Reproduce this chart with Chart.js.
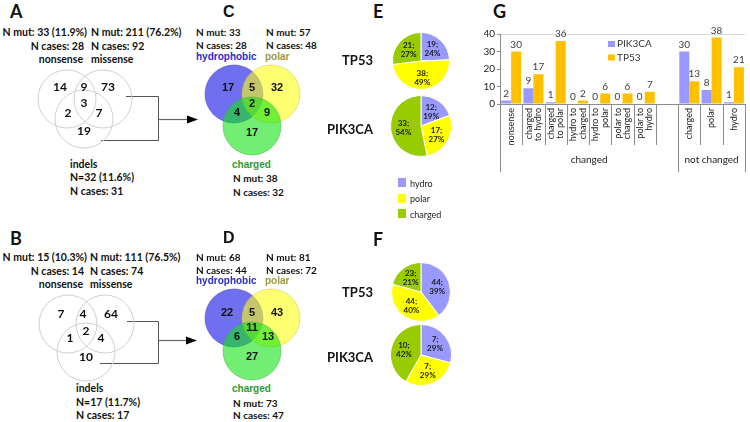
<!DOCTYPE html>
<html>
<head>
<meta charset="utf-8">
<script src="https://cdn.jsdelivr.net/npm/chart.js@4.4.1/dist/chart.umd.min.js"></script>
<style>
    body { margin: 0; width: 750px; height: 422px; position: relative; overflow: hidden; background: #fff; }
    .t { position: absolute; white-space: nowrap; line-height: 1; }
    canvas { position: absolute; }
    .sw { position: absolute; width: 8px; height: 9px; }
</style>
</head>
<body>
<svg width="750" height="422" style="position:absolute;left:0;top:0">
    <polyline points="126,96.5 158.5,96.5 158.5,140.5 101,140.5" fill="none" stroke="#555" stroke-width="1"/>
    <line x1="158.5" y1="119.5" x2="190" y2="119.5" stroke="#666" stroke-width="1.2"/>
    <polygon points="187,115.5 198,119.5 187,123.5" fill="#000"/>
    <polyline points="127,321.5 158.5,321.5 158.5,363.5 100,363.5" fill="none" stroke="#555" stroke-width="1"/>
    <line x1="158.5" y1="340.5" x2="189" y2="340.5" stroke="#666" stroke-width="1.2"/>
    <polygon points="186,336.5 197,340.5 186,344.5" fill="#000"/>
</svg>
<script>
// ---- data ----
// venn region counts: [only 1, 1&2, only 2, 1&2&3, 1&3, 2&3, only 3]
const vennACounts = [14, 9, 73, 3, 2, 7, 19];
const vennBCounts = [7, 4, 64, 2, 1, 4, 10];
const vennCCounts = [17, 5, 32, 2, 4, 9, 17];
const vennDCounts = [22, 5, 43, 11, 6, 13, 27];

const pieLabels = ['hydro', 'polar', 'charged'];
const pieE_TP53 = [19, 38, 21];
const pieE_TP53_pct = [24, 49, 27];
const pieE_PIK3CA = [12, 17, 33];
const pieE_PIK3CA_pct = [19, 27, 54];
const pieF_TP53 = [44, 44, 23];
const pieF_TP53_pct = [39, 40, 21];
const pieF_PIK3CA = [7, 7, 10];
const pieF_PIK3CA_pct = [29, 29, 42];

const gCategories = [['nonsense'], ['charged', 'to hydro'], ['charged', 'to polar'], ['hydro to', 'charged'],
    ['hydro to', 'polar'], ['polar to', 'charged'], ['polar to', 'hydro'], [''], ['charged'], ['polar'], ['hydro']];
const gPIK3CA = [2, 9, 1, 0, 0, 0, 0, null, 30, 8, 1];
const gTP53 = [30, 17, 36, 2, 6, 6, 7, null, 13, 38, 21];
const gGroups = [{ label: 'changed', from: 0, to: 7 }, { label: 'not changed', from: 8, to: 10 }];
const gYMax = 40;
const gYStep = 5;

// ---- styles ----
const FONT_CAL = 'Lato, "Open Sans", sans-serif';
const FONT_ARIAL = '"Liberation Sans", Arial, sans-serif';
const pieColours = ['#9999ff', '#ffff00', '#99cc00'];

// venn geometry (local units, y up), not data
const vennPlainLayout = {
    fills: ['rgba(0,0,0,0)', 'rgba(0,0,0,0)', 'rgba(0,0,0,0)'],
    borders: ['#cfcfcf', '#cfcfcf', '#cfcfcf'],
    radius: 29,
    font: 'bold 12px ' + FONT_CAL
};
const vennColourLayout = {
    fills: ['rgba(15,15,230,0.6)', 'rgba(255,255,20,0.6)', 'rgba(20,228,20,0.6)'],
    borders: ['rgba(60,60,200,0.5)', 'rgba(200,200,60,0.5)', 'rgba(60,180,60,0.5)'],
    radius: 29,
    font: 'bold 11px ' + FONT_ARIAL
};
const VENN_PAD = 31; // room for bubble overflow so the plot area stays 120x100

function addText(txt, x, y, o = {}) {
    const d = document.createElement('div');
    d.className = 't';
    d.textContent = txt;
    d.style.left = x + 'px';
    d.style.top = y + 'px';
    d.style.fontSize = (o.size || 10.5) + 'px';
    d.style.fontFamily = o.font || FONT_CAL;
    d.style.fontWeight = o.weight || 'bold';
    d.style.color = o.color || '#111';
    const tx = o.align === 'right' ? '-100%' : o.align === 'center' ? '-50%' : '0';
    d.style.transform = `translate(${tx}, -50%)`;
    document.body.appendChild(d);
}

function addCanvas(x, y, w, h) {
    const c = document.createElement('canvas');
    c.width = w;
    c.height = h;
    c.style.left = x + 'px';
    c.style.top = y + 'px';
    c.style.width = w + 'px';
    c.style.height = h + 'px';
    document.body.appendChild(c);
    return c;
}

// Venn as a bubble chart, counts drawn at region spots
function drawVenn(cx, cy, counts, layout, centres, spots) {
    const canvas = addCanvas(cx - 60 - VENN_PAD, cy - 50 - VENN_PAD, 120 + 2 * VENN_PAD, 100 + 2 * VENN_PAD);
    new Chart(canvas, {
        type: 'bubble',
        data: {
            datasets: [{
                data: centres.map(c => ({ x: c[0], y: c[1], r: layout.radius })),
                backgroundColor: layout.fills,
                borderColor: layout.borders,
                borderWidth: 1,
                clip: false
            }]
        },
        options: {
            responsive: false,
            animation: false,
            events: [],
            layout: { padding: VENN_PAD },
            plugins: { legend: { display: false }, tooltip: { enabled: false } },
            scales: {
                x: { type: 'linear', display: false, min: -60, max: 60 },
                y: { type: 'linear', display: false, min: -50, max: 50 }
            }
        },
        plugins: [{
            id: 'vennCounts',
            afterDatasetsDraw(chart) {
                const { ctx, scales: { x, y } } = chart;
                ctx.save();
                ctx.font = layout.font;
                ctx.fillStyle = '#111';
                ctx.textAlign = 'center';
                ctx.textBaseline = 'middle';
                counts.forEach((n, i) => {
                    ctx.fillText(n, x.getPixelForValue(spots[i][0]), y.getPixelForValue(spots[i][1]));
                });
                ctx.restore();
            }
        }]
    });
}

function drawPie(cx, cy, size, values, pct) {
    const canvas = addCanvas(cx - size / 2, cy - size / 2, size, size);
    new Chart(canvas, {
        type: 'pie',
        data: {
            labels: pieLabels,
            datasets: [{ data: values, backgroundColor: pieColours, borderColor: '#fff', borderWidth: 1 }]
        },
        options: {
            responsive: false,
            animation: false,
            events: [],
            layout: { padding: 0 },
            plugins: { legend: { display: false }, tooltip: { enabled: false } }
        },
        plugins: [{
            id: 'pieLabels',
            afterDatasetsDraw(chart) {
                const ctx = chart.ctx;
                const arcs = chart.getDatasetMeta(0).data;
                ctx.save();
                ctx.font = 'bold 8px ' + FONT_CAL;
                ctx.fillStyle = '#1a1a1a';
                ctx.textAlign = 'center';
                ctx.textBaseline = 'middle';
                arcs.forEach((a, i) => {
                    const mid = (a.startAngle + a.endAngle) / 2;
                    const rr = a.outerRadius * 0.58;
                    const px = a.x + Math.cos(mid) * rr;
                    const py = a.y + Math.sin(mid) * rr;
                    ctx.fillText(values[i] + ';', px, py - 4.5);
                    ctx.fillText(pct[i] + '%', px, py + 4.5);
                });
                ctx.restore();
            }
        }]
    });
}

// ---- panel A / B ----
addText('A', 10, 11, { size: 18 });
addText('N mut: 33 (11.9%)', 87, 32, { align: 'right' });
addText('N mut: 211 (76.2%)', 91, 32);
addText('N cases: 28', 84, 46, { align: 'right' });
addText('N cases: 92', 91, 46);
addText('nonsense', 83, 59, { align: 'right' });
addText('missense', 91, 59);
addText('indels', 70, 164);
addText('N=32 (11.6%)', 70, 177);
addText('N cases: 31', 70, 191);
drawVenn(85, 109, vennACounts, vennPlainLayout,
    [[-18, 10], [18, 10], [-1, -10]],
    [[-25, 22], [-1, 22], [23, 22], [-1, 6], [-17, -4], [14, -4], [-1, -22]]);

addText('B', 10, 238, { size: 18 });
addText('N mut: 15 (10.3%)', 87, 257, { align: 'right' });
addText('N mut: 111 (76.5%)', 90, 257);
addText('N cases: 14', 84, 271, { align: 'right' });
addText('N cases: 74', 90, 271);
addText('nonsense', 83, 284, { align: 'right' });
addText('missense', 90, 284);
addText('indels', 76, 388);
addText('N=17 (11.7%)', 76, 402);
addText('N cases: 17', 76, 415);
drawVenn(86, 338, vennBCounts, vennPlainLayout,
    [[-18, 14], [19, 14], [0, -14]],
    [[-25, 24], [-3, 24], [25, 24], [0, 7], [-16, 0], [15, 0], [0, -19]]);

// ---- panel C / D ----
const BLUE_T = '#2b2bd0', OLIVE_T = '#9c9a3c', GREEN_T = '#2f9a2f';
addText('C', 223, 12, { size: 16, font: FONT_ARIAL });
addText('N mut: 33', 196, 32, { size: 10 });
addText('N mut: 57', 266, 32, { size: 10 });
addText('N cases: 28', 196, 45, { size: 10 });
addText('N cases: 48', 266, 45, { size: 10 });
addText('hydrophobic', 196, 57, { font: FONT_ARIAL, size: 10, color: BLUE_T });
addText('polar', 265, 57, { font: FONT_ARIAL, size: 10, color: OLIVE_T });
addText('charged', 232, 165, { font: FONT_ARIAL, size: 10, color: GREEN_T });
addText('N mut: 38', 233, 178, { size: 10 });
addText('N cases: 32', 233, 192, { size: 10 });
drawVenn(252, 110, vennCCounts, vennColourLayout,
    [[-18, 16], [19, 16], [0, -16]],
    [[-24, 22], [0, 22], [25, 22], [0, 6], [-15, -3], [15, -3], [0, -23]]);

addText('D', 223, 238, { size: 16, font: FONT_ARIAL });
addText('N mut: 68', 196, 257, { size: 10 });
addText('N mut: 81', 266, 257, { size: 10 });
addText('N cases: 44', 196, 270, { size: 10 });
addText('N cases: 72', 266, 270, { size: 10 });
addText('hydrophobic', 196, 281, { font: FONT_ARIAL, size: 10, color: BLUE_T });
addText('polar', 265, 281, { font: FONT_ARIAL, size: 10, color: OLIVE_T });
addText('charged', 232, 389, { font: FONT_ARIAL, size: 10, color: GREEN_T });
addText('N mut: 73', 233, 403, { size: 10 });
addText('N cases: 47', 233, 415, { size: 10 });
drawVenn(252, 334, vennDCounts, vennColourLayout,
    [[-18, 16], [19, 16], [0, -17]],
    [[-25, 21], [0, 21], [25, 21], [0, 6], [-15, -3], [16, -3], [0, -23]]);

// ---- panel E / F ----
addText('E', 373, 11, { size: 18 });
addText('TP53', 373, 60, { size: 13, align: 'right' });
addText('PIK3CA', 373, 129, { size: 13, align: 'right' });
drawPie(421, 61, 58, pieE_TP53, pieE_TP53_pct);
drawPie(421, 126, 62, pieE_PIK3CA, pieE_PIK3CA_pct);

pieLabels.forEach((lab, i) => {
    const sw = document.createElement('div');
    sw.className = 'sw';
    sw.style.left = '398px';
    sw.style.top = (178 + i * 15.5) + 'px';
    sw.style.background = pieColours[i];
    document.body.appendChild(sw);
    addText(lab, 410, 182.5 + i * 15.5, { size: 9, weight: 'normal', color: '#222' });
});

addText('F', 373, 239, { size: 18 });
addText('TP53', 373, 292, { size: 13, align: 'right' });
addText('PIK3CA', 373, 357, { size: 13, align: 'right' });
drawPie(421, 291.5, 60, pieF_TP53, pieF_TP53_pct);
drawPie(421, 355, 62, pieF_PIK3CA, pieF_PIK3CA_pct);

// ---- panel G ----
addText('G', 493, 11, { size: 18 });

const gAxisPlugin = {
    id: 'gAxis',
    afterDraw(chart) {
        const { ctx, chartArea, scales: { x } } = chart;
        const n = gCategories.length;
        const w = (x.right - x.left) / n;
        const edges = [];
        gGroups.forEach(g => { edges.push(g.from, g.to + 1); });
        ctx.save();
        ctx.strokeStyle = '#8c8c8c';
        ctx.lineWidth = 1;
        for (let i = 0; i <= n; i++) {
            const px = Math.round(x.left + i * w) + 0.5;
            const len = edges.includes(i) ? 68 : 41;
            ctx.beginPath();
            ctx.moveTo(px, chartArea.bottom);
            ctx.lineTo(px, chartArea.bottom + len);
            ctx.stroke();
        }
        // category labels, rotated, lines centred on the category
        ctx.font = '9px ' + FONT_CAL;
        ctx.fillStyle = '#222';
        ctx.textAlign = 'right';
        ctx.textBaseline = 'middle';
        const lh = 9.5;
        gCategories.forEach((lines, i) => {
            const cxp = x.getPixelForValue(i);
            lines.forEach((ln, j) => {
                ctx.save();
                ctx.translate(cxp + (j - (lines.length - 1) / 2) * lh, chartArea.bottom + 4);
                ctx.rotate(-Math.PI / 2);
                ctx.fillText(ln, 0, 0);
                ctx.restore();
            });
        });
        // group labels
        ctx.font = '10px ' + FONT_CAL;
        ctx.textAlign = 'center';
        gGroups.forEach(g => {
            const cxp = x.left + (g.from + g.to + 1) / 2 * w;
            ctx.fillText(g.label, cxp, chartArea.bottom + 56);
        });
        // value labels
        ctx.fillStyle = '#404040';
        ctx.textBaseline = 'bottom';
        chart.data.datasets.forEach((ds, di) => {
            chart.getDatasetMeta(di).data.forEach((bar, i) => {
                if (ds.data[i] === null) return;
                ctx.fillText(ds.data[i], bar.x, bar.y - 2);
            });
        });
        // legend
        ctx.textAlign = 'left';
        ctx.textBaseline = 'middle';
        chart.data.datasets.forEach((ds, di) => {
            const ly = chartArea.top + 10 + di * 13.5;
            ctx.fillStyle = ds.backgroundColor;
            ctx.fillRect(chartArea.left + 108, ly - 3, 7, 6);
            ctx.fillStyle = '#333';
            ctx.fillText(ds.label, chartArea.left + 117, ly);
        });
        ctx.restore();
    }
};

const canvasG = addCanvas(470, 20, 280, 160);
new Chart(canvasG, {
    type: 'bar',
    data: {
        labels: gCategories,
        datasets: [
            { label: 'PIK3CA', data: gPIK3CA, backgroundColor: '#9999ff', categoryPercentage: 0.9, barPercentage: 1.0 },
            { label: 'TP53', data: gTP53, backgroundColor: '#ffc000', categoryPercentage: 0.9, barPercentage: 1.0 }
        ]
    },
    options: {
        responsive: false,
        animation: false,
        events: [],
        layout: { padding: { top: 14, right: 5, left: 0, bottom: 0 } },
        plugins: { legend: { display: false }, tooltip: { enabled: false } },
        scales: {
            x: {
                grid: { display: false },
                border: { color: '#8c8c8c' },
                ticks: { display: false },
                afterFit(s) { s.height = 76; }
            },
            y: {
                min: 0, max: gYMax,
                ticks: { stepSize: gYStep, padding: 2, font: { family: FONT_CAL, size: 10 }, color: '#222' },
                grid: {
                    color: c => (c.tick && c.tick.value === gYMax) ? '#d9d9d9' : 'rgba(0,0,0,0)',
                    tickColor: '#8c8c8c', tickLength: 3
                },
                border: { color: '#8c8c8c' },
                afterFit(s) { s.width = 30; }
            }
        }
    },
    plugins: [gAxisPlugin]
});
</script>
</body>
</html>
